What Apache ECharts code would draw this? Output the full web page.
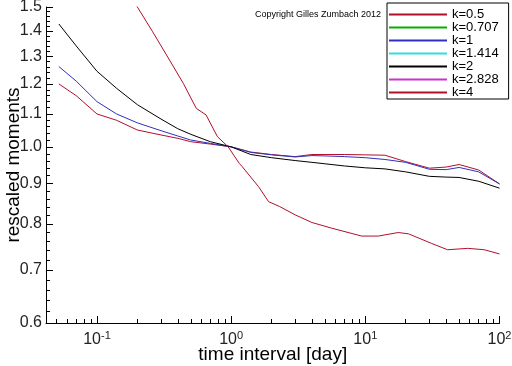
<!DOCTYPE html>
<html><head><meta charset="utf-8">
<script src="https://cdn.jsdelivr.net/npm/echarts@6/dist/echarts.min.js"></script>
<style>html,body{margin:0;padding:0;background:#fff}#c{width:512px;height:366px}</style>
</head><body><div id="c"></div>
<script>
const legendNames = ['k=0.5', 'k=0.707', 'k=1', 'k=1.414', 'k=2', 'k=2.828', 'k=4'];
const seriesColors = ['#b0102a', '#00b000', '#3030c0', '#33dddd', '#000000', '#cc33cc', '#b0102a'];

const xDays = [0.052, 0.07, 0.1, 0.14, 0.2, 0.3, 0.4, 0.5, 0.7, 1, 1.4, 2, 3, 4, 5, 7, 10, 14, 20, 30, 40, 50, 70, 100];
const kHalf = [1.200, 1.16, 1.10, 1.08, 1.05, 1.035, 1.025, 1.015, 1.008, 1.0, 0.985, 0.978, 0.972, 0.978, 0.978, 0.978, 0.977, 0.976, 0.958, 0.94, 0.943, 0.95, 0.935, 0.898];
const kOne  = [1.262, 1.21, 1.14, 1.10, 1.072, 1.048, 1.032, 1.02, 1.01, 1.0, 0.984, 0.977, 0.971, 0.975, 0.974, 0.972, 0.969, 0.964, 0.956, 0.937, 0.936, 0.942, 0.93, 0.898];
const kTwo  = [1.428, 1.34, 1.245, 1.185, 1.13, 1.084, 1.054, 1.037, 1.015, 1.0, 0.978, 0.969, 0.961, 0.956, 0.952, 0.946, 0.941, 0.938, 0.93, 0.918, 0.916, 0.915, 0.905, 0.887];
const xDaysK4 = [0.15, 0.2, 0.26, 0.33, 0.44, 0.55, 0.65, 0.79, 0.95, 1.15, 1.21, 1.6, 1.9, 2.3, 3, 4, 5.6, 9.4, 12.5, 17.6, 21, 31, 41, 58, 77, 100];
const kFour = [1.63, 1.5, 1.396, 1.305, 1.202, 1.118, 1.097, 1.03, 1.0, 0.953, 0.944, 0.891, 0.853, 0.841, 0.821, 0.803, 0.79, 0.772, 0.772, 0.78, 0.777, 0.756, 0.742, 0.745, 0.742, 0.733];

const yMajorTicks = [0.6, 0.7, 0.8, 0.9, 1.0, 1.1, 1.2, 1.3, 1.4, 1.5];
const yMinorTicks = [0.62,0.64,0.66,0.68,0.72,0.74,0.76,0.78,0.82,0.84,0.86,0.88,0.92,0.94,0.96,0.98,1.02,1.04,1.06,1.08,1.12,1.14,1.16,1.18,1.22,1.24,1.26,1.28,1.32,1.34,1.36,1.38,1.42,1.44,1.46,1.48];
const xMajorTicks = [0.1, 1, 10, 100];
const xMinorTicks = [0.05,0.06,0.07,0.08,0.09,0.2,0.3,0.4,0.5,0.6,0.7,0.8,0.9,2,3,4,5,6,7,8,9,20,30,40,50,60,70,80,90];

const FONT = 'Liberation Sans';
const X_MIN = 0.0417, X_MAX = 100, Y_MIN = 0.6, Y_MAX = 1.5;

function pairs(xs, ys) { return xs.map((x, i) => [x, ys[i]]); }
const seriesData = {
  'k=0.5': pairs(xDays, kHalf),
  'k=0.707': [],
  'k=1': pairs(xDays, kOne),
  'k=1.414': [],
  'k=2': pairs(xDays, kTwo),
  'k=2.828': [],
  'k=4': pairs(xDaysK4, kFour)
};

const gridBox = {left: 46, right: 12.5, top: 7, bottom: 43, containLabel: false, outerBoundsMode: 'none'};
const chart = echarts.init(document.getElementById('c'), null, {renderer: 'canvas'});
chart.setOption({
  animation: false,
  backgroundColor: '#fff',
  textStyle: {fontFamily: FONT},
  grid: [Object.assign({}, gridBox), Object.assign({}, gridBox)],
  legend: {
    orient: 'vertical', left: 387, top: 3,
    padding: [5, 10, 0, 2],
    backgroundColor: '#fff', borderColor: '#000', borderWidth: 1, borderRadius: 0,
    icon: 'rect', itemWidth: 58, itemHeight: 2, itemGap: 0, itemTextGap: 5,
    textStyle: {fontFamily: FONT, fontSize: 13, color: '#000', lineHeight: 13},
    data: legendNames
  },
  xAxis: [{
    gridIndex: 0, type: 'log', logBase: 10, min: X_MIN, max: X_MAX, position: 'bottom',
    axisLine: {lineStyle: {color: '#000', width: 1}},
    axisTick: {inside: true, length: 7, customValues: xMajorTicks, lineStyle: {color: '#000'}},
    axisLabel: {
      customValues: xMajorTicks, margin: 7, color: '#222',
      formatter: v => '{b|10}{s|' + Math.round(Math.log10(v)) + '}',
      rich: {
        b: {fontFamily: FONT, fontSize: 16, color: '#222', lineHeight: 18, verticalAlign: 'bottom'},
        s: {fontFamily: FONT, fontSize: 11, color: '#222', lineHeight: 18, verticalAlign: 'top'}
      }
    },
    splitLine: {show: false},
    name: 'time interval [day]', nameLocation: 'middle', nameGap: 22, nameMoveOverlap: false,
    nameTextStyle: {fontFamily: FONT, fontSize: 19, color: '#000'}
  }, {
    gridIndex: 1, type: 'log', logBase: 10, min: X_MIN, max: X_MAX, position: 'bottom',
    axisLine: {show: false},
    axisTick: {show: true, inside: true, length: 4, customValues: xMinorTicks, lineStyle: {color: '#000'}},
    axisLabel: {show: false}, splitLine: {show: false}
  }],
  yAxis: [{
    gridIndex: 0, type: 'log', logBase: 10, min: Y_MIN, max: Y_MAX, position: 'left',
    axisLine: {show: true, lineStyle: {color: '#000', width: 1}},
    axisTick: {show: true, inside: true, length: 7, customValues: yMajorTicks, lineStyle: {color: '#000'}},
    axisLabel: {customValues: yMajorTicks, margin: 4, fontFamily: FONT, fontSize: 16, color: '#222',
      formatter: v => v.toFixed(1)},
    splitLine: {show: false},
    name: 'rescaled moments', nameLocation: 'middle', nameGap: 23, nameMoveOverlap: false,
    nameTextStyle: {fontFamily: FONT, fontSize: 19, color: '#000'}
  }, {
    gridIndex: 1, type: 'log', logBase: 10, min: Y_MIN, max: Y_MAX, position: 'left',
    axisLine: {show: false},
    axisTick: {show: true, inside: true, length: 4, customValues: yMinorTicks, lineStyle: {color: '#000'}},
    axisLabel: {show: false}, splitLine: {show: false}
  }],
  graphic: [{
    type: 'text', left: 255, top: 10,
    style: {text: 'Copyright Gilles Zumbach 2012', fontFamily: FONT, fontSize: 9, fill: '#000'}
  }],
  series: legendNames.map((n, i) => ({
    name: n, type: 'line', symbol: 'none', xAxisIndex: 0, yAxisIndex: 0,
    data: seriesData[n], color: seriesColors[i],
    itemStyle: {color: seriesColors[i]},
    lineStyle: {width: 1, color: seriesColors[i]}, clip: true
  }))
});
</script>
</body></html>
